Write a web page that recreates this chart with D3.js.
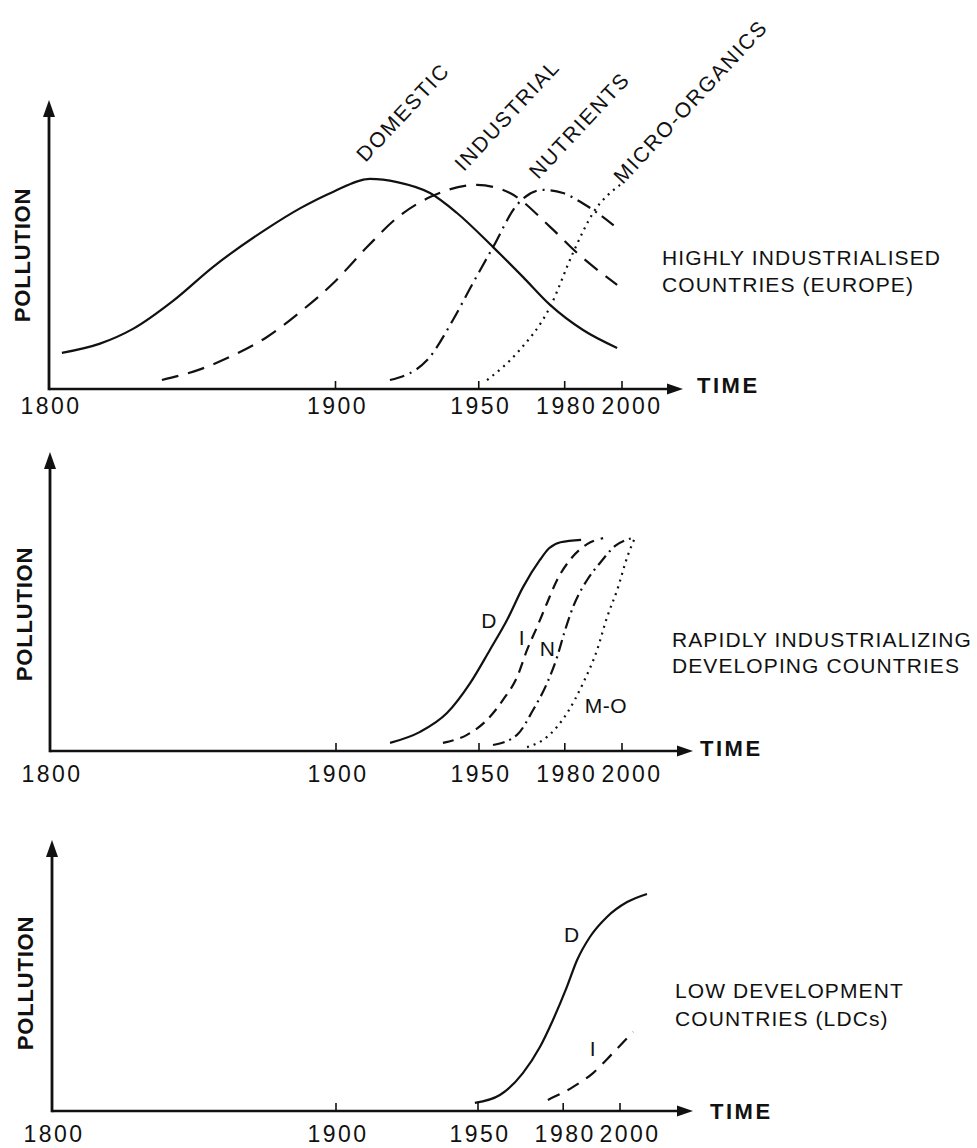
<!DOCTYPE html>
<html>
<head>
<meta charset="utf-8">
<script src="https://cdn.jsdelivr.net/npm/d3@7"></script>
<style>
  html, body { margin: 0; padding: 0; background: #fff; }
  svg { display: block; }
  text { font-family: "Liberation Sans", Arial, sans-serif; fill: #111; }
</style>
</head>
<body>
<svg id="chart" width="977" height="1148"></svg>
<script>
// ---------------- DATA ----------------
const tickYears = [1800, 1900, 1950, 1980, 2000];
const tickLabels = ["1800", "1900", "1950", "1980", "2000"];
const yAxisLabel = "POLLUTION";
const xAxisLabel = "TIME";

// Panel 1: highly industrialised countries (Europe)
const p1Domestic = [[1804.5,12.5],[1817.8,15.7],[1829.3,20.8],[1843.3,30.5],[1857.2,42.2],[1876.1,55.5],[1887.6,62.5],[1899.1,68.2],[1912,72.7],[1921.5,71.6],[1933,67.8],[1942.4,60.9],[1955,49.1],[1965.4,38.8],[1974.9,29.1],[1986.4,20.4],[1998.3,14.2]];
const p1Industrial = [[1839.4,3.1],[1852.7,6.8],[1864.2,11.6],[1876.1,18],[1887.6,26.6],[1899.1,36.5],[1911,49.1],[1921.8,59.5],[1933,66.4],[1949.4,70.6],[1960.9,67.8],[1974.9,56.1],[1984.3,47.1],[1998.3,36]];
const p1Nutrients = [[1919,3.1],[1932,10],[1941,23.9],[1948,36.7],[1955,49.1],[1963.4,63.8],[1972.4,68.9],[1979.4,67.8],[1986.4,64.2],[1998.3,55.7]];
const p1MicroOrganics = [[1952.9,3.1],[1963.4,12.5],[1974.9,28.4],[1982.9,47.1],[1989.9,60.9],[1999.3,70.6]];
const p1CurveLabels = ["DOMESTIC", "INDUSTRIAL", "NUTRIENTS", "MICRO-ORGANICS"];
const p1LabelAnchors = [[1910.5,78.2],[1944.8,75],[1970.8,72.3],[2000.3,70.6]];
const p1Title = ["HIGHLY INDUSTRIALISED", "COUNTRIES (EUROPE)"];

// Panel 2: rapidly industrializing developing countries
const p2Domestic = [[1918.9,2.7],[1929.4,6.4],[1938.8,12.7],[1946.9,22.7],[1953.8,33.8],[1959.8,43.8],[1965.4,54.8],[1971.3,63.9],[1974.5,67.8],[1978.5,69.8],[1985.7,70.6]];
const p2Industrial = [[1937.4,2.7],[1945.8,5.4],[1952.8,10.4],[1958.4,17.1],[1963.3,24.7],[1966.8,33.8],[1970.3,41.5],[1973.8,49.5],[1977.3,57.2],[1981.8,63.9],[1987.8,69.2],[1993.4,71.2]];
const p2Nutrients = [[1954.9,2],[1963.3,5.4],[1968.9,13.7],[1973.8,22.7],[1977.3,31.4],[1979.8,39.5],[1982.9,48.2],[1987.8,57.2],[1992.3,62.9],[1997.6,68.6],[2003.5,71.2]];
const p2MicroOrganics = [[1966.8,1.3],[1973.8,4.7],[1980.8,12.7],[1986.4,22.7],[1991.3,33.8],[1994.8,44.8],[1998.3,53.8],[2002.1,65.6],[2004.2,70.6]];
const p2CurveLabels = ["D", "I", "N", "M-O"];
const p2LabelAnchors = [[1953.5,43.8],[1965,38],[1974,34.4],[1994.4,15.4]];
const p2Title = ["RAPIDLY INDUSTRIALIZING", "DEVELOPING COUNTRIES"];

// Panel 3: low development countries
const p3Domestic = [[1948.9,3],[1957.7,5.9],[1965.8,14],[1971.8,23.6],[1976.4,33.6],[1981.3,45.8],[1984.9,55.7],[1989.4,64.2],[1995.4,71.6],[2002.5,77.1],[2009.5,80.1]];
const p3Industrial = [[1974.6,4.1],[1983.5,8.9],[1990.5,14],[1997.5,21.4],[2004.6,29.2]];
const p3CurveLabels = ["D", "I"];
const p3LabelAnchors = [[1983,65],[1990.5,23]];
const p3Title = ["LOW DEVELOPMENT", "COUNTRIES (LDCs)"];

// ---------------- LAYOUT ----------------
const panels = [
  { x0: 49, x2000: 622, yAxis: 389, yTop: 100, arrowTip: 683, timeX: 697, timeY: 393, tickY: 414,
    polX: 30, polY: 255, titleX: 662, titleY: 265, titleDy: 27,
    series: [
      { data: p1Domestic, dash: null },
      { data: p1Industrial, dash: "17,10" },
      { data: p1Nutrients, dash: "15,6,2,6" },
      { data: p1MicroOrganics, dash: "2,5" }
    ],
    labels: p1CurveLabels, anchors: p1LabelAnchors, rotate: -47, title: p1Title },
  { x0: 50, x2000: 622, yAxis: 751, yTop: 452, arrowTip: 693, timeX: 700, timeY: 756, tickY: 782,
    polX: 32, polY: 614, titleX: 672, titleY: 647, titleDy: 26,
    series: [
      { data: p2Domestic, dash: null },
      { data: p2Industrial, dash: "11,7" },
      { data: p2Nutrients, dash: "12,5,2,5" },
      { data: p2MicroOrganics, dash: "2,5" }
    ],
    labels: p2CurveLabels, anchors: p2LabelAnchors, rotate: 0, title: p2Title },
  { x0: 52, x2000: 620, yAxis: 1111, yTop: 840, arrowTip: 693, timeX: 710, timeY: 1119, tickY: 1142,
    polX: 33, polY: 983, titleX: 675, titleY: 998, titleDy: 28,
    series: [
      { data: p3Domestic, dash: null },
      { data: p3Industrial, dash: "13,9" }
    ],
    labels: p3CurveLabels, anchors: p3LabelAnchors, rotate: 0, title: p3Title }
];

const svg = d3.select("#chart");

panels.forEach(p => {
  const g = svg.append("g");
  const x = d3.scaleLinear().domain([1800, 2000]).range([p.x0, p.x2000]);
  const y = d3.scaleLinear().domain([0, 100]).range([p.yAxis, p.yTop]);

  // curves
  const line = d3.line()
    .x(d => x(d[0]))
    .y(d => y(d[1]))
    .curve(d3.curveMonotoneX);
  p.series.forEach(s => {
    g.append("path")
      .attr("d", line(s.data))
      .attr("fill", "none")
      .attr("stroke", "#111")
      .attr("stroke-width", 2.2)
      .attr("stroke-linecap", "butt")
      .attr("stroke-dasharray", s.dash);
  });

  // x axis line + ticks
  g.append("line")
    .attr("x1", p.x0).attr("x2", p.arrowTip - 12)
    .attr("y1", p.yAxis).attr("y2", p.yAxis)
    .attr("stroke", "#111").attr("stroke-width", 2.6);
  g.append("path")
    .attr("d", `M${p.arrowTip},${p.yAxis} L${p.arrowTip - 16},${p.yAxis - 5.5} L${p.arrowTip - 16},${p.yAxis + 5.5} Z`)
    .attr("fill", "#111");
  g.selectAll(".tick").data(tickYears.slice(1)).enter().append("line")
    .attr("x1", d => x(d)).attr("x2", d => x(d))
    .attr("y1", p.yAxis).attr("y2", p.yAxis - 8)
    .attr("stroke", "#111").attr("stroke-width", 1.6);

  // y axis line + arrow
  g.append("line")
    .attr("x1", p.x0).attr("x2", p.x0)
    .attr("y1", p.yAxis + 1.3).attr("y2", p.yTop + 12)
    .attr("stroke", "#111").attr("stroke-width", 2.8);
  g.append("path")
    .attr("d", `M${p.x0},${p.yTop} L${p.x0 - 6},${p.yTop + 17} L${p.x0 + 6},${p.yTop + 17} Z`)
    .attr("fill", "#111");

  // tick labels
  g.selectAll(".tl").data(tickYears).enter().append("text")
    .attr("x", d => x(d) + (d === 2000 ? 10 : 2))
    .attr("y", p.tickY)
    .attr("text-anchor", "middle")
    .attr("font-size", 23)
    .attr("letter-spacing", 2.5)
    .text((d, i) => tickLabels[i]);

  // TIME label
  g.append("text")
    .attr("x", p.timeX).attr("y", p.timeY)
    .attr("font-size", 22).attr("font-weight", "bold")
    .attr("letter-spacing", 2.5)
    .text(xAxisLabel);

  // POLLUTION label
  g.append("text")
    .attr("transform", `translate(${p.polX},${p.polY}) rotate(-90)`)
    .attr("text-anchor", "middle")
    .attr("font-size", 22).attr("font-weight", "bold")
    .attr("letter-spacing", 0.8)
    .text(yAxisLabel);

  // curve labels
  p.labels.forEach((lab, i) => {
    const [ax, ay] = p.anchors[i];
    const t = g.append("text")
      .attr("font-size", 21)
      .attr("letter-spacing", p.rotate ? 1.8 : 0.5)
      .text(lab);
    if (p.rotate) {
      t.attr("transform", `translate(${x(ax)},${y(ay)}) rotate(${p.rotate})`);
    } else {
      t.attr("x", x(ax)).attr("y", y(ay)).attr("text-anchor", "middle").attr("dy", "0.36em");
    }
  });

  // region title
  p.title.forEach((line, i) => {
    g.append("text")
      .attr("x", p.titleX).attr("y", p.titleY + i * p.titleDy)
      .attr("font-size", 21)
      .attr("letter-spacing", 1.1)
      .text(line);
  });
});
</script>
</body>
</html>
